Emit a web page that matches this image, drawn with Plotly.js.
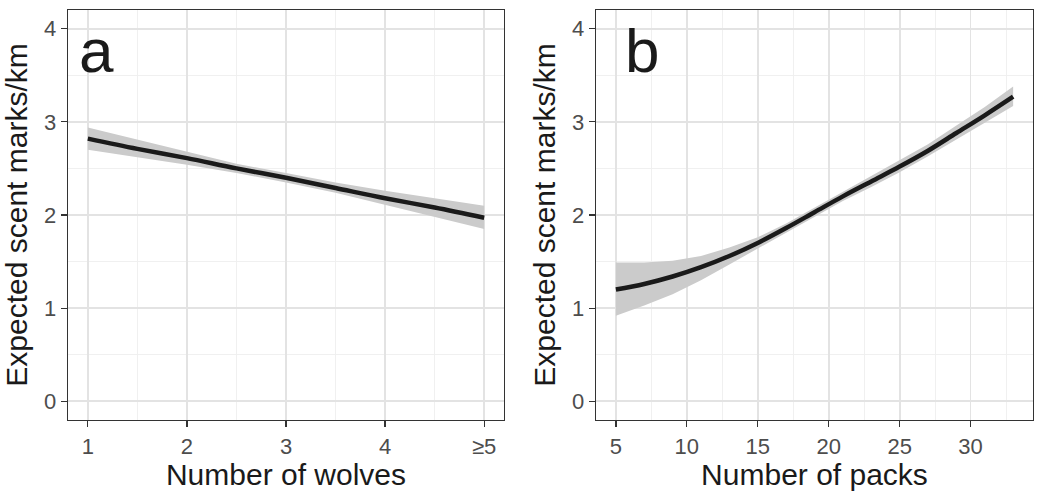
<!DOCTYPE html>
<html><head><meta charset="utf-8">
<script src="https://cdn.plot.ly/plotly-3.0.1.min.js"></script>
<style>html,body{margin:0;padding:0;background:#fff}#chart{width:1040px;height:491px}</style>
</head><body><div id="chart"></div>
<script>
// Panel a: number of wolves
const wolvesX = [1, 1.5, 2, 2.5, 3, 3.5, 4, 4.5, 5];
const wolvesFit = [2.82, 2.71, 2.61, 2.50, 2.40, 2.29, 2.18, 2.08, 1.97];
const wolvesLow = [2.70, 2.62, 2.54, 2.45, 2.35, 2.24, 2.11, 1.98, 1.85];
const wolvesHigh = [2.94, 2.81, 2.68, 2.55, 2.45, 2.35, 2.26, 2.18, 2.10];
const wolvesTickVals = [1, 2, 3, 4, 5];
const wolvesTickText = ['1', '2', '3', '4', '≥5'];

// Panel b: number of packs
const packsX = [5, 7, 9, 11, 13, 15, 17, 19, 21, 23, 25, 27, 29, 31, 33];
const packsFit = [1.20, 1.26, 1.34, 1.44, 1.56, 1.70, 1.86, 2.03, 2.20, 2.36, 2.52, 2.69, 2.88, 3.07, 3.27];
const packsLow = [0.92, 1.03, 1.15, 1.30, 1.47, 1.64, 1.81, 1.98, 2.15, 2.30, 2.46, 2.63, 2.81, 2.99, 3.17];
const packsHigh = [1.49, 1.49, 1.51, 1.56, 1.65, 1.76, 1.91, 2.08, 2.25, 2.42, 2.59, 2.76, 2.96, 3.16, 3.38];

const yTitle = 'Expected scent marks/km';
const FONT = 'Liberation Sans, Arial, Helvetica, sans-serif';
const bandColor = '#cbcbcb';
const lineColor = '#1a1a1a';

function band(x, lo, hi, xa, ya) {
  return [
    {x: x, y: lo, xaxis: xa, yaxis: ya, mode: 'lines', line: {width: 0, color: bandColor}, hoverinfo: 'skip', showlegend: false},
    {x: x, y: hi, xaxis: xa, yaxis: ya, mode: 'lines', line: {width: 0, color: bandColor}, fill: 'tonexty', fillcolor: bandColor, hoverinfo: 'skip', showlegend: false}
  ];
}
const traces = [
  ...band(wolvesX, wolvesLow, wolvesHigh, 'x', 'y'),
  {x: wolvesX, y: wolvesFit, xaxis: 'x', yaxis: 'y', mode: 'lines', line: {color: lineColor, width: 4.5, shape: 'spline'}, showlegend: false},
  ...band(packsX, packsLow, packsHigh, 'x2', 'y2'),
  {x: packsX, y: packsFit, xaxis: 'x2', yaxis: 'y2', mode: 'lines', line: {color: lineColor, width: 4.5, shape: 'spline'}, showlegend: false}
];

const gridMajor = '#e3e3e3';
const gridMinor = '#eeeeee';
function axBase() {
  return {
    showline: true, mirror: true, linecolor: '#333333', linewidth: 1.3,
    ticks: 'outside', ticklen: 6, tickwidth: 1.3, tickcolor: '#333333',
    showgrid: true, gridcolor: gridMajor, gridwidth: 1.8,
    zeroline: false,
    tickfont: {family: FONT, size: 22, color: '#4d4d4d'},
    automargin: false
  };
}
const yDom = [1 - 420/491, 1 - 10/491];
const titleFont = {family: FONT, size: 30, color: '#1a1a1a'};
const minorCfg = (d, t0) => ({dtick: d, tick0: t0, showgrid: true, gridcolor: gridMinor, gridwidth: 0.9, ticks: ''});
const layout = {
  width: 1040, height: 491,
  margin: {l: 0, r: 0, t: 0, b: 0},
  paper_bgcolor: '#ffffff', plot_bgcolor: '#ffffff',
  showlegend: false,
  font: {family: FONT},
  xaxis: Object.assign(axBase(), {
    domain: [68/1040, 504/1040], range: [0.8, 5.2],
    tickmode: 'array', tickvals: wolvesTickVals, ticktext: wolvesTickText,
    minor: minorCfg(0.5, 0.5),
    title: {text: 'Number of wolves', font: titleFont, standoff: 5},
    anchor: 'y'
  }),
  yaxis: Object.assign(axBase(), {
    domain: yDom, range: [-0.2, 4.2], dtick: 1, tick0: 0,
    minor: minorCfg(0.5, 0.5),
    title: {text: yTitle, font: titleFont, standoff: 7},
    anchor: 'x'
  }),
  xaxis2: Object.assign(axBase(), {
    domain: [596/1040, 1033/1040], range: [3.6, 34.4], dtick: 5, tick0: 5,
    minor: minorCfg(2.5, 2.5),
    title: {text: 'Number of packs', font: titleFont, standoff: 5},
    anchor: 'y2'
  }),
  yaxis2: Object.assign(axBase(), {
    domain: yDom, range: [-0.2, 4.2], dtick: 1, tick0: 0,
    minor: minorCfg(0.5, 0.5),
    title: {text: yTitle, font: titleFont, standoff: 7},
    anchor: 'x2'
  }),
  annotations: [
    {text: 'a', xref: 'paper', yref: 'paper', x: 77/1040, y: 1 - 50/491, xanchor: 'left', yanchor: 'middle', showarrow: false, font: {family: FONT, size: 62, color: '#1a1a1a'}},
    {text: 'b', xref: 'paper', yref: 'paper', x: 623/1040, y: 1 - 50/491, xanchor: 'left', yanchor: 'middle', showarrow: false, font: {family: FONT, size: 62, color: '#1a1a1a'}}
  ]
};
Plotly.newPlot('chart', traces, layout, {displayModeBar: false, staticPlot: true});
</script></body></html>
